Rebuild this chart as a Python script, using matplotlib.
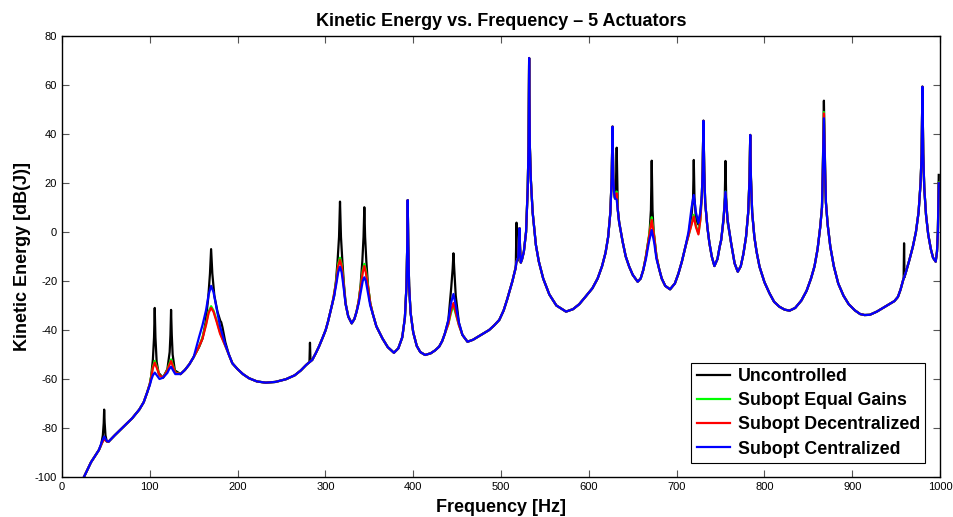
import numpy as np
import matplotlib
matplotlib.use("Agg")
import matplotlib.pyplot as plt

plt.rcParams['font.family'] = ['Liberation Sans', 'DejaVu Sans']
plt.rcParams['axes.unicode_minus'] = False

# points shared by all four curves (Hz, dB)
common = [
    (25, -100), (33, -94), (42, -89),
    (53, -85.6), (60, -83), (70, -79.5), (80, -76), (88, -72.5), (93, -69.5), (97, -65.5),
    (115, -59.5),
    (135, -58), (140, -56.3), (145, -54), (150, -51),
    (190, -50), (194, -53.6), (200, -56), (206, -58), (213, -59.7), (222, -61), (232, -61.5),
    (243, -61.2), (255, -60.1), (265, -58.5), (272, -56.5), (278, -54.3),
    (285, -52.2), (289, -49.5), (292.6, -46.8), (297, -43), (300.3, -40), (303, -36.5),
    (306, -32), (308, -29),
    (326, -34.5), (329.9, -37.3), (333, -35.5), (335.5, -32.5),
    (354, -33.5), (358, -38.5), (365, -43.5), (371, -47), (378, -49.3), (383, -47.5),
    (387.5, -43), (390.5, -35), (392.3, -22), (393.2, -5), (393.7, 13), (394.3, -5), (395.3, -22),
    (397, -33), (400, -41), (404, -46.5), (408, -49), (413.5, -50.2), (420, -49.5), (425, -48.3),
    (429.5, -46.8), (433, -44.5), (436, -41.5),
    (456, -42), (461.8, -44.8), (468, -44), (475, -42.5), (486.5, -40), (492, -38.2),
    (498, -35.9), (503, -32), (507, -27.5), (510, -23.7), (513, -20), (515, -17),
    (519.5, -10.5), (520.3, -3), (521, 1.5), (521.6, -6), (522.5, -12.5), (524, -11), (526, -8),
    (528.5, 0), (530.4, 18), (531.3, 35), (532, 71), (532.8, 35), (534, 21), (536, 8),
    (539.7, -5.3), (543, -12), (548, -19), (555, -25.5), (563, -30), (574, -32.5), (582, -31.5),
    (589, -29.5), (596, -26.5), (604, -23), (610, -19), (615, -14), (619, -8.5), (622, -2),
    (624.5, 8), (626, 22), (627, 43), (627.8, 22), (628.8, 16), (629.8, 13.7),
    (633, 9), (634.5, 4), (636.5, 0), (638.5, -4), (642, -10), (646, -14.2), (650, -17.5),
    (655.6, -20.3), (659, -19), (662, -15.5),
    (680, -15), (683, -19), (687, -22), (692.5, -23.4), (698, -21), (702, -17), (706, -12),
    (710, -6),
    (728.7, 15), (729.6, 25), (730.5, 45.4), (731.4, 25), (732.5, 12), (735, 2), (737.3, -4.5),
    (740, -10), (743, -13.9), (746.5, -11), (749, -6),
    (766, -12.8), (769.6, -16.2), (773, -14), (776, -9), (779, -2), (781.5, 8), (783, 22),
    (783.8, 39.6), (784.6, 22), (786, 8), (788.5, -2), (791, -8), (794.4, -14.2), (800, -20.5),
    (805.7, -25), (811, -28.5), (817, -30.5), (823, -31.7), (828.6, -32.1), (835, -31),
    (842, -28), (848, -24), (853, -19), (857, -14), (860.5, -7), (863.5, 2), (865.5, 10),
    (870, 12), (872, 3), (875, -6), (879, -14), (884, -21), (890, -26), (896, -29.5),
    (903, -32), (909, -33.5), (914, -33.9), (920, -33.8), (928, -32.5), (935, -31),
    (942, -29.5), (948, -28.2), (952, -26.5), (955, -23.5), (958, -19.5),
    (961, -16.5), (965, -11.5), (969, -6), (972.5, 0), (975.5, 8), (977.8, 20), (979, 32),
    (979.9, 59.3), (980.8, 32), (982, 18), (984, 7), (986.5, -1), (989.5, -7), (992, -10.5),
    (995, -12.1), (996.5, -8), (997.5, 0),
]

uncontrolled = [
    (44.5, -87), (46.5, -83), (47.5, -78), (48, -72.5), (48.6, -78), (49.5, -83), (51, -85.5),
    (100, -62), (101.5, -59), (103.5, -52), (104.8, -43), (105.6, -31), (106.4, -43),
    (107.8, -53), (110, -57.5),
    (120, -56), (122.6, -49), (123.5, -42), (124.2, -31.8), (125, -42), (126, -50), (128.5, -56.5),
    (156, -47), (160, -43.5), (163.5, -37), (166.5, -27), (168.5, -17), (169.8, -7), (171.2, -17),
    (173.5, -26), (177, -32.5), (180.3, -36.3), (181.3, -36.8), (182.8, -39), (186, -45),
    (281.8, -53), (282.4, -45.2), (283, -52.8),
    (310, -26), (312, -20), (313.8, -12), (315.5, -2), (316.6, 12.4), (317.7, -2), (319.3, -12),
    (321, -21), (323, -29),
    (338, -28), (340, -22), (342, -12), (343.4, -2), (344.3, 10.1), (345.2, -2), (346.6, -12),
    (348.5, -22), (351, -29),
    (440, -36), (443.2, -23), (444.9, -15), (445.8, -8.7), (446.7, -15), (448.4, -26), (452, -37),
    (516.8, -14), (517.6, 3.8), (518.4, -12),
    (630.8, 18), (631.7, 34.4), (632.6, 15),
    (665, -10), (669, -1), (670.7, 9), (671.6, 29.1), (672.5, 9), (674, -1), (677, -10),
    (713.5, -1), (717, 7), (718.7, 14), (719.5, 29.4), (720.3, 14), (722, 5), (724.8, 3), (727, 8),
    (750.7, -3.3), (753.5, 5), (754.8, 14), (755.6, 29), (756.4, 14), (758, 4), (762, -4.5),
    (866.5, 22), (867.7, 53.6), (869, 22),
    (958.5, -19), (959, -4.6), (959.5, -18.5),
    (998.5, 23.3),
]

equal_gains = [
    (45, -86.5), (48, -84.3), (51, -85.5),
    (100, -62), (101.5, -59), (103.5, -55), (105.6, -52.6), (108, -55), (111, -58.5),
    (120, -56.3), (122, -54), (124.2, -52), (126.5, -54.5), (129, -57.3),
    (156, -46.8), (160, -43), (164, -37.5), (167, -32.5), (169.8, -30.3), (172.5, -32), (176, -36),
    (180, -41), (186, -46.5),
    (310, -25), (312.5, -19.5), (314.5, -13), (316.6, -10.5), (318.5, -13), (320.5, -20),
    (323, -29.5),
    (338, -28), (340.5, -21), (342.5, -15.5), (344.3, -13), (346, -15.5), (348.5, -22), (351, -29),
    (440, -37.5), (443, -33), (445.8, -30), (448.5, -33.5), (452, -38),
    (516.5, -15), (517.6, -12.1),
    (631.7, 16.5),
    (665, -10), (668.5, -1.5), (671.6, 6), (674.5, -1.5), (677, -10),
    (713.5, -1.5), (717, 3.5), (719.5, 7), (722, 2.5), (724.8, -0.5), (727, 5),
    (750.7, -3.3), (753.5, 6), (755.6, 16.5), (758, 5), (762, -4.5),
    (867.7, 49),
    (998.5, 20.2),
]

decentralized = [
    (45, -86.5), (48, -84.5), (51, -85.5),
    (100, -62), (101.5, -59.5), (103.5, -55.5), (105.6, -53.3), (108, -55.5), (111, -58.5),
    (120, -56.5), (122, -54.5), (124.2, -52.7), (126.5, -55), (129, -57.5),
    (156, -46.8), (160, -43.5), (164, -38), (167, -33), (169.8, -31), (172.5, -32.5), (176, -36.5),
    (180, -41.5), (186, -46.5),
    (310, -25), (312.5, -20), (314.5, -14), (316.6, -11.4), (318.5, -14), (320.5, -20.5),
    (323, -29.5),
    (338, -28), (340.5, -21.5), (342.5, -16.5), (344.3, -13.9), (346, -16.5), (348.5, -22.5),
    (351, -29),
    (440, -37.5), (443, -32), (445.8, -29), (448.5, -33), (452, -38),
    (516.5, -15), (517.6, -12.1),
    (631.7, 15.8),
    (665, -10), (668.5, -2), (671.6, 4.9), (674.5, -2), (677, -10),
    (713.5, -1.5), (717, 3), (719.5, 6.3), (722, 2), (724.8, -1), (727, 5),
    (750.7, -3.3), (753.5, 5.5), (755.6, 16), (758, 5), (762, -4.5),
    (867.7, 48.4),
    (998.5, 20),
]

centralized = [
    (45, -86), (48, -83.5), (51, -85.3),
    (100, -62.5), (101.5, -60.5), (103.5, -58.5), (105.6, -57.4), (108, -58.5), (111, -60),
    (120, -57.5), (122, -56), (124.2, -55), (126.5, -56.5), (129, -58),
    (156, -43), (160, -38), (164, -32), (167, -25.5), (169.8, -22), (172.5, -24.5), (176, -31),
    (180, -38.5), (186, -46),
    (310, -26), (312.5, -21), (314.5, -16.5), (316.6, -14.2), (318.5, -16.5), (320.5, -22),
    (323, -29.5),
    (338, -29), (340.5, -24), (342.5, -20), (344.3, -18.5), (346, -20), (348.5, -25), (351, -30),
    (440, -36), (443, -29), (445.8, -25.3), (448.5, -30), (452, -37),
    (516.5, -15), (517.6, -12.1),
    (631.7, 13.2),
    (665, -11), (668.5, -4), (671.6, 0.8), (674.5, -4.5), (677, -11),
    (713.5, 0), (717, 10), (719.5, 15.1), (722, 8), (724.8, 3.7), (727, 8),
    (750.7, -3.3), (753.5, 6), (755.6, 16.4), (758, 5), (762, -4.5),
    (867.7, 46.4),
    (998.5, 19.9),
]

labels = ['Uncontrolled', 'Subopt Equal Gains', 'Subopt Decentralized', 'Subopt Centralized']
colors = ['k', (0, 1, 0), (1, 0, 0), (0, 0, 1)]


def curve(extra):
    pts = np.array(common + extra, dtype=float)
    pts = pts[np.argsort(pts[:, 0], kind='stable')]
    return pts[:, 0], pts[:, 1]


fig = plt.figure(figsize=(9.54, 5.17), dpi=100)
ax = fig.add_axes([0.065, 0.0774, 0.9204, 0.853])

for data, lab, col in zip([uncontrolled, equal_gains, decentralized, centralized], labels, colors):
    f, db = curve(data)
    ax.plot(f, db, color=col, lw=1.6, label=lab)

ax.set_xlim(0, 1000)
ax.set_ylim(-100, 80)
ax.set_xticks(np.arange(0, 1001, 100))
ax.set_yticks(np.arange(-100, 81, 20))
ax.tick_params(direction='in', top=True, right=True, labelsize=8, length=5, width=0.8,
               color='#555555')
for s in ax.spines.values():
    s.set_linewidth(1.0)

ax.set_title('Kinetic Energy vs. Frequency \u2013 5 Actuators', fontsize=13, fontweight='bold', pad=7)
ax.set_xlabel('Frequency [Hz]', fontsize=13, fontweight='bold', labelpad=5)
ax.set_ylabel('Kinetic Energy [dB(J)]', fontsize=13, fontweight='bold', labelpad=3)

leg = ax.legend(loc='lower right', bbox_to_anchor=(0.983, 0.032),
                prop={'weight': 'bold', 'size': 12.8}, fancybox=False, framealpha=1,
                edgecolor='k', handlelength=1.9, handletextpad=0.4, borderpad=0.3,
                labelspacing=0.4, borderaxespad=0)
leg.get_frame().set_linewidth(0.8)

fig.savefig('out.png', dpi=100)
